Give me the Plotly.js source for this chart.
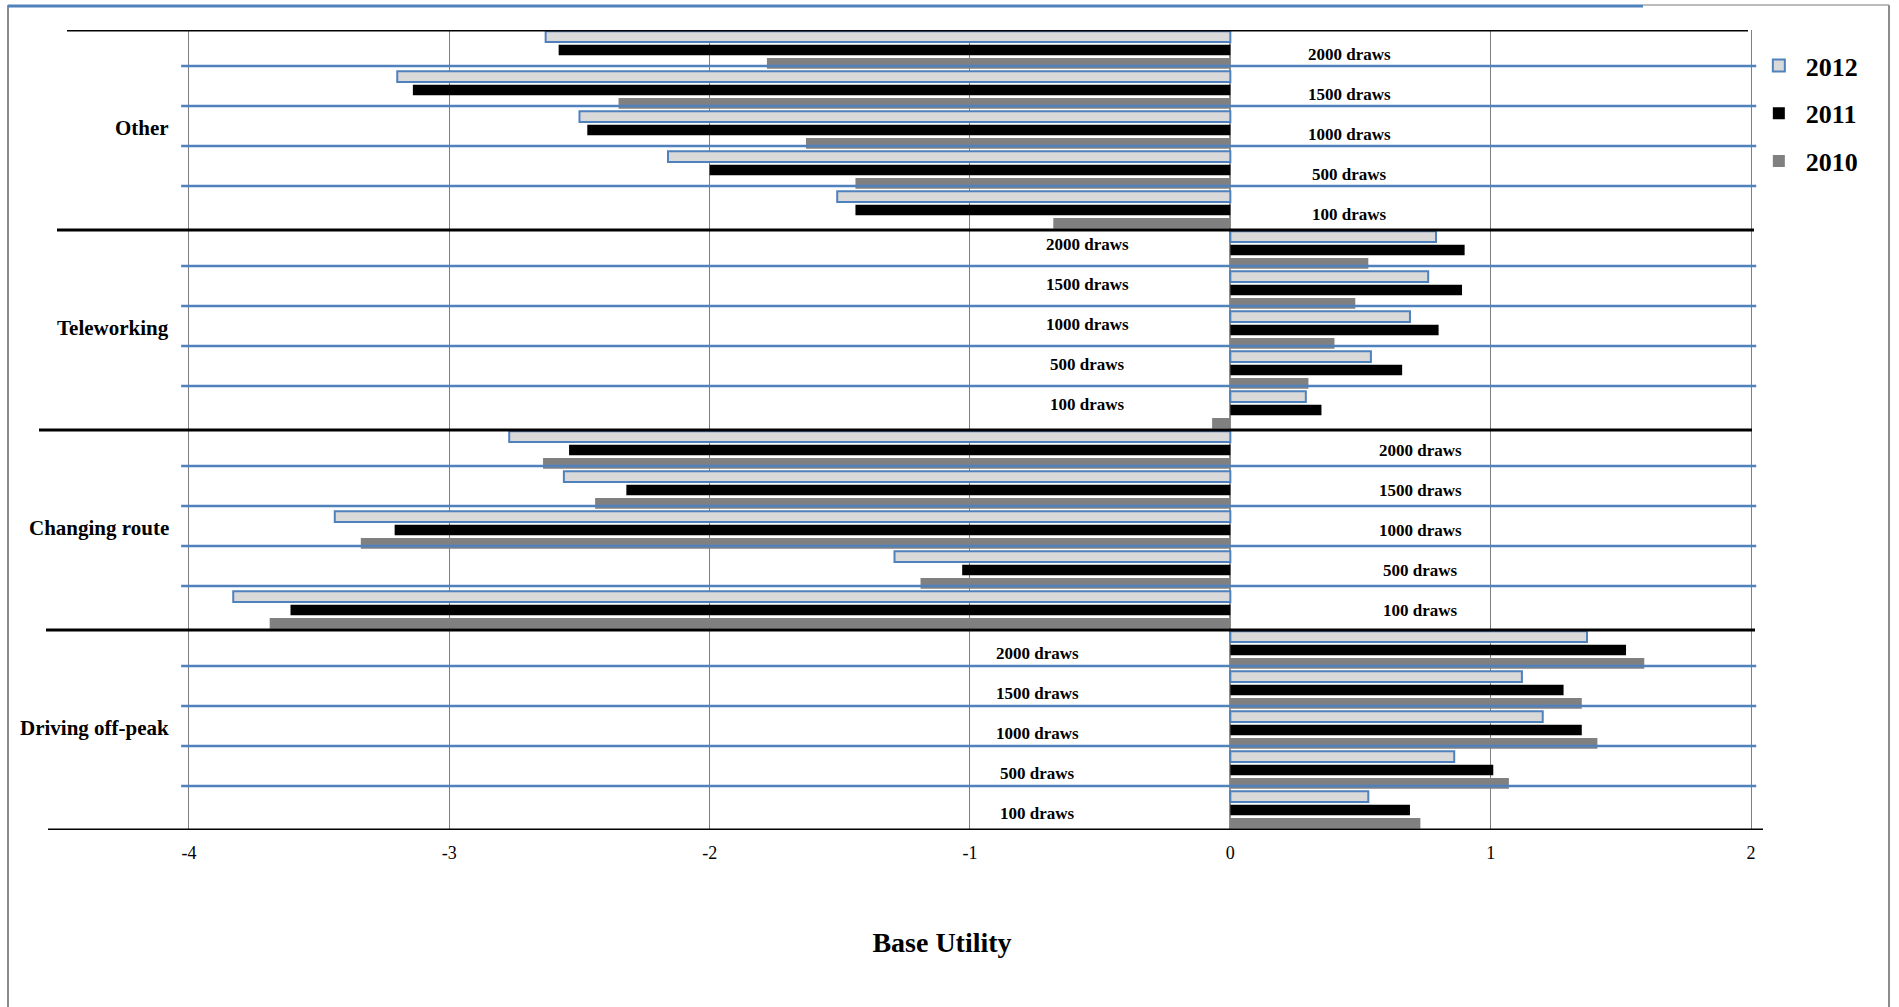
<!DOCTYPE html>
<html>
<head>
<meta charset="utf-8">
<script src="https://cdn.plot.ly/plotly-3.0.1.min.js"></script>
<style>
  html, body { margin: 0; padding: 0; background: #ffffff; }
  #chart { width: 1899px; height: 1007px; }
</style>
</head>
<body>
<div id="chart"></div>
<script>
// Alternatives and simulation sizes
const groups = ['Other', 'Teleworking', 'Changing route', 'Driving off-peak'];
const draws = ['2000 draws', '1500 draws', '1000 draws', '500 draws', '100 draws'];
const years = ['2012', '2011', '2010'];

// Base utility per alternative (rows) and draw count (columns)
const util2012 = [
  [-2.63, -3.20, -2.50, -2.16, -1.51],
  [0.79, 0.76, 0.69, 0.54, 0.29],
  [-2.77, -2.56, -3.44, -1.29, -3.83],
  [1.37, 1.12, 1.20, 0.86, 0.53]
];
const util2011 = [
  [-2.58, -3.14, -2.47, -2.00, -1.44],
  [0.90, 0.89, 0.80, 0.66, 0.35],
  [-2.54, -2.32, -3.21, -1.03, -3.61],
  [1.52, 1.28, 1.35, 1.01, 0.69]
];
const util2010 = [
  [-1.78, -2.35, -1.63, -1.44, -0.68],
  [0.53, 0.48, 0.40, 0.30, -0.07],
  [-2.64, -2.44, -3.34, -1.19, -3.69],
  [1.59, 1.35, 1.41, 1.07, 0.73]
];

const tickValues = [-4, -3, -2, -1, 0, 1, 2];
const tickLabels = ['-4', '-3', '-2', '-1', '0', '1', '2'];

// ---- presentation settings ----
const FONT = 'Liberation Serif, Times New Roman, serif';
const W = 1899, H = 1007;
const L = 119, R = 1765, T = 30, B = 830;
const px = x => (x - L) / (R - L);
const py = y => (B - y) / (B - T);

// where the "draws" labels sit for each alternative (x in data units, pixel nudge)
const drawLabelX = [0.456, -0.55, 0.73, -0.74];
const drawLabelShift = [-4, 6, 0, -3];

// horizontal reach (pixels) of the black rules, top to bottom
const ruleLeft = [67, 57, 39, 46, 48];
const ruleRight = [1748, 1754, 1752, 1755, 1763];

const rowKeys = [];
groups.forEach(g => draws.forEach(d => rowKeys.push(g + ' | ' + d)));
const flat = arr => arr.reduce((a, r) => a.concat(r), []);

const yearStyle = {
  '2012': { color: '#d9d9d9', line: { color: '#4f81bd', width: 2 } },
  '2011': { color: '#000000', line: { color: '#000000', width: 0 } },
  '2010': { color: '#808080', line: { color: '#808080', width: 0 } }
};
const series = { '2012': util2012, '2011': util2011, '2010': util2010 };

const traces = years.map(yr => ({
  type: 'bar',
  orientation: 'h',
  name: yr,
  legendgroup: yr,
  x: flat(series[yr]),
  y: rowKeys,
  marker: yearStyle[yr],
  hoverinfo: 'x+name'
}));

const shapes = [];
// outer frame
shapes.push({ type: 'line', xref: 'paper', yref: 'paper', x0: px(8), x1: px(8), y0: py(5), y1: py(1007), line: { color: '#8c8c8c', width: 2 } });
shapes.push({ type: 'line', xref: 'paper', yref: 'paper', x0: px(1889), x1: px(1889), y0: py(5), y1: py(1007), line: { color: '#8c8c8c', width: 2 } });
shapes.push({ type: 'line', xref: 'paper', yref: 'paper', x0: px(1643), x1: px(1889), y0: py(5), y1: py(5), line: { color: '#a6a6a6', width: 1.5 } });
shapes.push({ type: 'line', xref: 'paper', yref: 'paper', x0: px(8), x1: px(1643), y0: py(6), y1: py(6), line: { color: '#4f81bd', width: 3 } });

// black rules between the alternatives
for (let g = 0; g <= groups.length; g++) {
  const yb = g * draws.length - 0.5;
  shapes.push({ type: 'line', xref: 'paper', yref: 'y', x0: px(ruleLeft[g]), x1: px(ruleRight[g]), y0: yb, y1: yb, line: { color: '#000000', width: 3 } });
}
// blue rules between draw counts
for (let g = 0; g < groups.length; g++) {
  for (let k = 0; k < draws.length - 1; k++) {
    const yb = g * draws.length + k + 0.5 - 0.1;
    shapes.push({ type: 'line', xref: 'x', yref: 'y', x0: -4.03, x1: 2.02, y0: yb, y1: yb, line: { color: '#4f81bd', width: 2.5 } });
  }
}

const annotations = [];
groups.forEach((g, gi) => {
  annotations.push({
    xref: 'x', yref: 'y', x: -4.07, y: rowKeys[gi * draws.length + 2],
    yshift: 2,
    text: '<b>' + g + '</b>', showarrow: false, xanchor: 'right', yanchor: 'middle',
    font: { family: FONT, size: 21, color: '#000000' }
  });
  draws.forEach((d, di) => {
    annotations.push({
      xref: 'x', yref: 'y', x: drawLabelX[gi], y: rowKeys[gi * draws.length + di],
      yshift: drawLabelShift[gi],
      text: '<b>' + d + '</b>', showarrow: false, xanchor: 'center', yanchor: 'middle',
      font: { family: FONT, size: 17, color: '#000000' }
    });
  });
});

const layout = {
  width: W, height: H,
  margin: { l: L, r: W - R, t: T, b: H - B, pad: 0 },
  paper_bgcolor: '#ffffff',
  plot_bgcolor: 'rgba(0,0,0,0)',
  barmode: 'group',
  bargap: 0,
  bargroupgap: 0.2,
  showlegend: true,
  legend: {
    x: 0.992, xanchor: 'left', y: py(42), yanchor: 'top',
    traceorder: 'grouped', tracegroupgap: 11, itemwidth: 44,
    font: { family: FONT, size: 26, color: '#000000', weight: 'bold' },
    bgcolor: 'rgba(0,0,0,0)'
  },
  xaxis: {
    range: [-4 - (189 - L) / 260.4, 2 + (R - 1751) / 260.4],
    tickmode: 'array', tickvals: tickValues, ticktext: tickLabels,
    showgrid: true, gridcolor: '#7f7f7f', gridwidth: 1,
    zeroline: true, zerolinecolor: '#8c8c8c', zerolinewidth: 2,
    showline: false, ticks: '', ticklabelstandoff: 10,
    tickfont: { family: FONT, size: 18, color: '#000000' },
    title: { text: '<b>Base Utility</b>', standoff: 70, font: { family: FONT, size: 28, color: '#000000' } },
    automargin: false, fixedrange: true
  },
  yaxis: {
    type: 'category',
    categoryorder: 'array', categoryarray: rowKeys,
    range: [rowKeys.length - 0.5, -0.5],
    showticklabels: false, showgrid: false, zeroline: false, showline: false, ticks: '',
    automargin: false, fixedrange: true
  },
  shapes: shapes,
  annotations: annotations
};

Plotly.newPlot('chart', traces, layout, { displayModeBar: false, staticPlot: true });
</script>
</body>
</html>
